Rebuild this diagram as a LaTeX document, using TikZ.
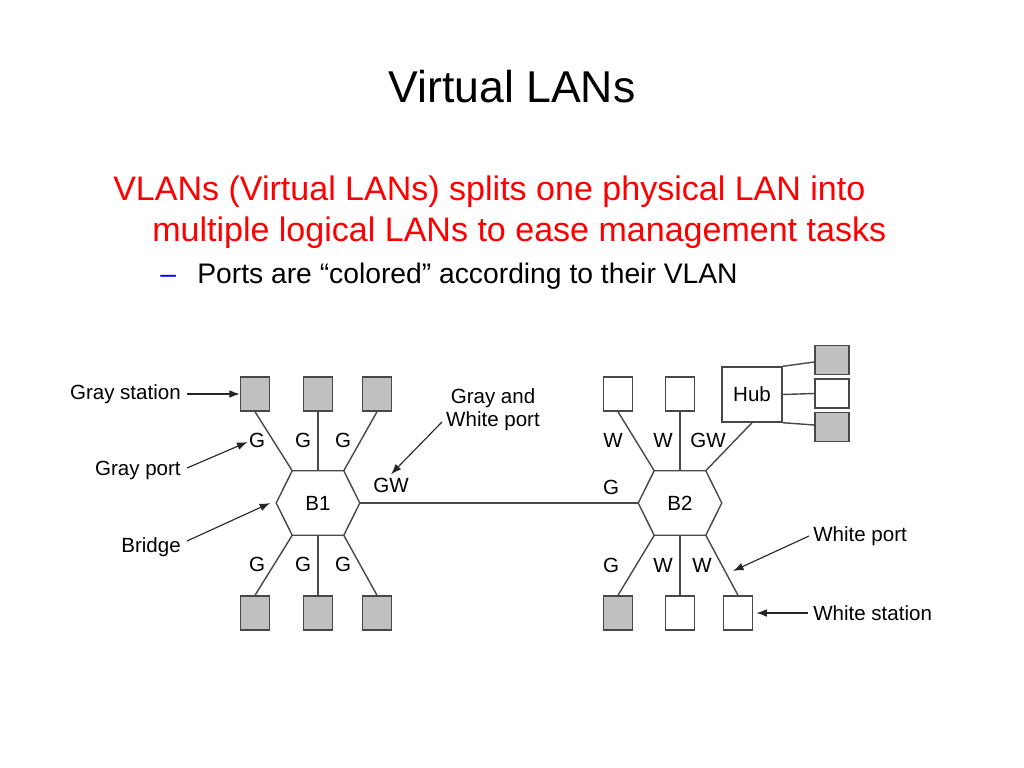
\documentclass[tikz,border=0pt]{standalone}
\usepackage{fontspec}
\setmainfont{Liberation Sans}
\usetikzlibrary{arrows.meta}

\definecolor{slidered}{RGB}{255,0,0}
\definecolor{linegray}{RGB}{72,72,72}
\definecolor{stationgray}{RGB}{192,192,192}

\tikzset{
  station/.style={rectangle, draw=linegray, line width=1pt, fill=white,
    minimum width=0.725cm, minimum height=0.85cm, inner sep=0pt},
  gstation/.style={station, fill=stationgray},
  hubstation/.style={station, minimum width=0.85cm, minimum height=0.725cm},
  ghubstation/.style={hubstation, fill=stationgray},
  bridge/.style={rectangle, minimum width=1.275cm, minimum height=1.6cm,
    inner sep=0pt, font=\fontsize{14.6}{17}\selectfont},
  port/.style={inner sep=0pt, font=\fontsize{14.6}{17}\selectfont},
  notetext/.style={inner sep=0pt, font=\fontsize{14.6}{16.5}\selectfont},
  link/.style={draw=linegray, line width=1pt},
  note/.style={draw=black!85, line width=0.8pt, -{Latex[length=7.5pt,width=5.5pt]}}
}

\begin{document}
\begin{tikzpicture}[x=0.025cm, y=-0.025cm]
  \useasboundingbox[fill=white] (0,0) rectangle (1024,768);

  % Slide text
  \node[anchor=base, inner sep=0pt, font=\fontsize{31.7}{36}\selectfont] (title) at (512,103) {Virtual LANs};
  \node[anchor=base west, inner sep=0pt, text=slidered, font=\fontsize{24.2}{29}\selectfont] (line1) at (113,200)
    {VLANs (Virtual LANs) splits one physical LAN into};
  \node[anchor=base west, inner sep=0pt, text=slidered, font=\fontsize{24.2}{29}\selectfont] (line2) at (152,241)
    {multiple logical LANs to ease management tasks};
  \node[anchor=base west, inner sep=0pt, text=blue, font=\fontsize{20.1}{24}\selectfont] (dash) at (160,283) {–};
  \node[anchor=base west, inner sep=0pt, font=\fontsize{20.1}{24}\selectfont] (line3) at (197,283)
    {Ports are “colored” according to their VLAN};

  % Bridges
  \node[bridge] (b1) at (318,503) {B1};
  \node[bridge] (b2) at (680,503) {B2};
  \foreach \b in {b1,b2} {
    \coordinate (\b-w) at ([xshift=-0.4cm]\b.west);
    \coordinate (\b-e) at ([xshift=0.4cm]\b.east);
    \draw[link] (\b.north west) -- (\b.north east) -- (\b-e) -- (\b.south east)
      -- (\b.south west) -- (\b-w) -- cycle;
  }

  % Stations of B1
  \node[gstation] (s1) at (255,394) {};
  \node[gstation] (s2) at (318,394) {};
  \node[gstation] (s3) at (377,394) {};
  \node[gstation] (s4) at (255,613) {};
  \node[gstation] (s5) at (318,613) {};
  \node[gstation] (s6) at (377,613) {};

  % Stations of B2
  \node[station] (t1) at (618,394) {};
  \node[station] (t2) at (680,394) {};
  \node[gstation] (t4) at (618,613) {};
  \node[station] (t5) at (680,613) {};
  \node[station] (t6) at (738,613) {};

  % Hub
  \node[rectangle, draw=linegray, line width=1pt, minimum width=1.5cm, minimum height=1.375cm,
    inner sep=0pt, font=\fontsize{14.6}{17}\selectfont] (hub) at (752,394.5) {Hub};
  \node[ghubstation] (h1) at (832,360) {};
  \node[hubstation] (h2) at (832,393.5) {};
  \node[ghubstation] (h3) at (832,427) {};

  % Links
  \draw[link] (b1.north west) -- (s1.south);
  \draw[link] (b1.north) -- (s2.south);
  \draw[link] (b1.north east) -- (s3.south);
  \draw[link] (b1.south west) -- (s4.north);
  \draw[link] (b1.south) -- (s5.north);
  \draw[link] (b1.south east) -- (s6.north);
  \draw[link] (b1-e) -- (b2-w);
  \draw[link] (b2.north west) -- (t1.south);
  \draw[link] (b2.north) -- (t2.south);
  \draw[link] (b2.north east) -- (hub.south);
  \draw[link] (b2.south west) -- (t4.north);
  \draw[link] (b2.south) -- (t5.north);
  \draw[link] (b2.south east) -- (t6.north);
  \draw[link] (hub.north east) -- ([yshift=-0.05cm]h1.west);
  \draw[link] (hub.east) -- (h2.west);
  \draw[link] (hub.south east) -- ([yshift=0.05cm]h3.west);

  % Port labels
  \node[port] (pg1) at (257,440) {G};
  \node[port] (pg2) at (303,440) {G};
  \node[port] (pg3) at (343,440) {G};
  \node[port] (pg4) at (257,564) {G};
  \node[port] (pg5) at (303,564) {G};
  \node[port] (pg6) at (343,564) {G};
  \node[port] (pgw1) at (391,485) {GW};
  \node[port] (pw1) at (613,440) {W};
  \node[port] (pw2) at (663,440) {W};
  \node[port] (pgw2) at (708,440) {GW};
  \node[port] (pg7) at (611,487) {G};
  \node[port] (pg8) at (611,565) {G};
  \node[port] (pw3) at (663,565) {W};
  \node[port] (pw4) at (702,565) {W};

  % Annotations
  \node[notetext, anchor=east] (gs) at (181,394) {Gray station};
  \node[notetext, anchor=east] (gp) at (181,470) {Gray port};
  \node[notetext, anchor=east] (br) at (181,547) {Bridge};
  \node[notetext, align=center] (gwp) at (493,410) {Gray and\\White port};
  \node[notetext, anchor=west] (wp) at (813,536) {White port};
  \node[notetext, anchor=west] (ws) at (813,613) {White station};
  \coordinate (wpt) at (733,571);

  \draw[note] ([xshift=0.15cm]gs.east) -- (s1.west);
  \draw[note] ([xshift=0.15cm,yshift=0.05cm]gp.east) -- ([xshift=-0.03cm,yshift=-0.05cm]pg1.west);
  \draw[note] ([xshift=0.15cm,yshift=0.15cm]br.east) -- ([xshift=-0.15cm]b1-w);
  \draw[note] ([xshift=-0.1cm,yshift=-0.3cm]gwp.west) -- ([yshift=0.08cm]pgw1.north);
  \draw[note] ([xshift=-0.1cm]wp.west) -- (wpt);
  \draw[note] ([xshift=-0.12cm]ws.west) -- ([xshift=0.08cm]t6.east);
\end{tikzpicture}
\end{document}
